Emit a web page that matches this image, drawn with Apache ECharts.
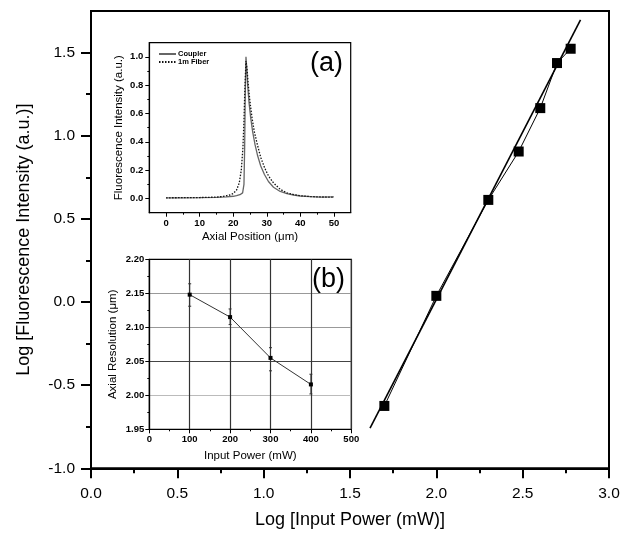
<!DOCTYPE html>
<html><head><meta charset="utf-8">
<script src="https://cdn.jsdelivr.net/npm/echarts@6/dist/echarts.min.js"></script>
<style>html,body{margin:0;padding:0;background:#fff}#c{width:624px;height:537px}</style>
</head><body><div id="c"></div>
<script>
// ---- main plot data ----
const logPower = [1.699, 2.0, 2.301, 2.477, 2.602, 2.699, 2.778];
const logIntensity = [-0.625, 0.037, 0.614, 0.905, 1.166, 1.437, 1.523];
const fitLogPower = [1.616, 2.835];
const fitLogIntensity = [-0.759, 1.697];
const mainYTicks = [-1, -0.5, 0, 0.5, 1, 1.5];
const mainYMinorTicks = [-0.75, -0.25, 0.25, 0.75, 1.25];

// ---- inset (a) data ----
const posCoupler = [0, 5, 10, 15, 18, 20, 21, 22, 22.8, 23.2, 23.4, 23.6, 23.8, 24.0, 24.3, 24.7, 25.2, 25.8, 26.5, 27.3, 28.2, 29.3, 30.5, 32, 34, 36, 38, 40, 43, 46, 50];
const coupler = [0.005, 0.005, 0.006, 0.008, 0.011, 0.016, 0.02, 0.027, 0.04, 0.10, 0.35, 0.75, 1.0, 0.93, 0.80, 0.68, 0.57, 0.47, 0.38, 0.30, 0.23, 0.17, 0.12, 0.08, 0.05, 0.035, 0.025, 0.018, 0.013, 0.01, 0.012];
const posFiber = [0, 5, 10, 15, 17, 19, 20, 21, 21.8, 22.4, 22.9, 23.2, 23.5, 23.8, 24.1, 24.5, 25, 25.6, 26.3, 27.2, 28.2, 29.3, 30.5, 32, 34, 36, 38, 40, 43, 46, 50];
const fiber = [0.005, 0.006, 0.007, 0.01, 0.015, 0.025, 0.035, 0.06, 0.11, 0.2, 0.36, 0.55, 0.80, 0.97, 0.92, 0.80, 0.68, 0.57, 0.47, 0.38, 0.29, 0.22, 0.16, 0.11, 0.065, 0.04, 0.028, 0.02, 0.014, 0.011, 0.01];
const aXTicks = [0, 10, 20, 30, 40, 50];
const aXMinorTicks = [5, 15, 25, 35, 45];
const aYTicks = [0, 0.2, 0.4, 0.6, 0.8, 1.0];
const aYMinorTicks = [0.1, 0.3, 0.5, 0.7, 0.9];

// ---- inset (b) data ----
const inputPower = [100, 200, 300, 400];
const axialRes = [2.148, 2.115, 2.055, 2.016];
const resLow = [2.131, 2.104, 2.036, 2.002];
const resHigh = [2.164, 2.127, 2.070, 2.031];

const FONT = 'Liberation Sans, Arial, sans-serif';
const zip = (a, b) => a.map((v, i) => [v, b[i]]);

const grids = [
  {left: 91, top: 11, width: 518, height: 457.3, show: true, borderColor: '#000', borderWidth: 2},
  {left: 91, top: 11, width: 518, height: 457.3},
  {left: 149.3, top: 42.7, width: 201.4, height: 170, show: true, borderColor: '#000', borderWidth: 1.2},
  {left: 149.3, top: 42.7, width: 201.4, height: 170},
  {left: 149.3, top: 259.3, width: 202, height: 170, show: true, borderColor: '#000', borderWidth: 1.2}
];

const smallLabel = {fontFamily: FONT, fontSize: 9.5, color: '#000', fontWeight: 'bold'};
const hidden = (gi, min, max) => ({gridIndex: gi, min, max, show: false});

const option = {
  backgroundColor: '#fff',
  animation: false,
  grid: grids,
  legend: {
    data: ['Coupler', '1m Fiber'],
    orient: 'vertical', left: 158, top: 50,
    itemWidth: 17, itemHeight: 8, itemGap: 0, padding: 0,
    itemStyle: {opacity: 0},
    textStyle: {fontFamily: FONT, fontSize: 7.5, fontWeight: 'bold', color: '#000', padding: [0, 0, 0, -3]}
  },
  xAxis: [
    {gridIndex: 0, type: 'value', min: 0, max: 3, interval: 0.5,
      axisLine: {onZero: false, lineStyle: {color: '#000', width: 2}},
      axisTick: {length: 10, lineStyle: {color: '#000', width: 2}},
      minorTick: {show: true, splitNumber: 2, length: 5, lineStyle: {color: '#000', width: 2}},
      axisLabel: {fontFamily: FONT, fontSize: 15.5, color: '#000', margin: 17, formatter: v => v.toFixed(1)},
      splitLine: {show: false},
      name: 'Log [Input Power (mW)]', nameLocation: 'middle', nameGap: 43,
      nameTextStyle: {fontFamily: FONT, fontSize: 18, color: '#000'}},
    hidden(1, 0, 3),
    {gridIndex: 2, type: 'value', min: -5, max: 55,
      axisLine: {onZero: false, lineStyle: {color: '#000', width: 1.2}},
      axisTick: {customValues: aXTicks, length: 4, lineStyle: {color: '#000'}},
      axisLabel: Object.assign({customValues: aXTicks, margin: 6}, smallLabel),
      splitLine: {show: false},
      name: 'Axial Position (\u03bcm)', nameLocation: 'middle', nameGap: 18,
      nameTextStyle: {fontFamily: FONT, fontSize: 11.5, color: '#000'}},
    {gridIndex: 3, type: 'value', min: -5, max: 55,
      axisLine: {show: false, onZero: false}, axisLabel: {show: false}, splitLine: {show: false},
      axisTick: {customValues: aXMinorTicks, length: 2, lineStyle: {color: '#000'}}},
    {gridIndex: 4, type: 'value', min: 0, max: 500, interval: 100,
      axisLine: {onZero: false, lineStyle: {color: '#000', width: 1.2}},
      axisTick: {length: 4, lineStyle: {color: '#000'}},
      minorTick: {show: true, splitNumber: 2, length: 2, lineStyle: {color: '#000'}},
      axisLabel: Object.assign({margin: 5}, smallLabel),
      splitLine: {show: true, lineStyle: {color: '#333', width: 1.2}},
      name: 'Input Power (mW)', nameLocation: 'middle', nameGap: 21,
      nameTextStyle: {fontFamily: FONT, fontSize: 11.5, color: '#000'}}
  ],
  yAxis: [
    {gridIndex: 0, type: 'value', min: -1, max: 1.75,
      axisLine: {onZero: false, lineStyle: {color: '#000', width: 2}},
      axisTick: {customValues: mainYTicks, length: 10, lineStyle: {color: '#000', width: 2}},
      axisLabel: {customValues: mainYTicks, fontFamily: FONT, fontSize: 15.5, color: '#000', margin: 16, formatter: v => v.toFixed(1)},
      splitLine: {show: false},
      name: 'Log [Fluorescence Intensity (a.u.)]', nameLocation: 'middle', nameGap: 58,
      nameTextStyle: {fontFamily: FONT, fontSize: 18, color: '#000'}},
    {gridIndex: 1, type: 'value', min: -1, max: 1.75,
      axisLine: {show: false, onZero: false}, axisLabel: {show: false}, splitLine: {show: false},
      axisTick: {customValues: mainYMinorTicks, length: 5, lineStyle: {color: '#000', width: 2}}},
    {gridIndex: 2, type: 'value', min: -0.1, max: 1.1,
      axisLine: {onZero: false, lineStyle: {color: '#000', width: 1.2}},
      axisTick: {customValues: aYTicks, length: 4, lineStyle: {color: '#000'}},
      axisLabel: Object.assign({customValues: aYTicks, margin: 6, formatter: v => v.toFixed(1)}, smallLabel),
      splitLine: {show: false},
      name: 'Fluorescence Intensity (a.u.)', nameLocation: 'middle', nameGap: 24,
      nameTextStyle: {fontFamily: FONT, fontSize: 11.5, color: '#000'}},
    {gridIndex: 3, type: 'value', min: -0.1, max: 1.1,
      axisLine: {show: false, onZero: false}, axisLabel: {show: false}, splitLine: {show: false},
      axisTick: {customValues: aYMinorTicks, length: 2, lineStyle: {color: '#000'}}},
    {gridIndex: 4, type: 'value', min: 1.95, max: 2.2, interval: 0.05,
      axisLine: {onZero: false, lineStyle: {color: '#000', width: 1.2}},
      axisTick: {length: 4, lineStyle: {color: '#000'}},
      minorTick: {show: true, splitNumber: 2, length: 2, lineStyle: {color: '#000'}},
      axisLabel: Object.assign({margin: 5, formatter: v => v.toFixed(2)}, smallLabel),
      splitLine: {show: true, lineStyle: {color: ['#000', '#bbb', '#444', '#999', '#999', '#000'], width: 1}},
      name: 'Axial Resolution (\u03bcm)', nameLocation: 'middle', nameGap: 30,
      nameTextStyle: {fontFamily: FONT, fontSize: 11.5, color: '#000'}}
  ],
  series: [
    {type: 'line', xAxisIndex: 0, yAxisIndex: 0, data: zip(fitLogPower, fitLogIntensity),
      symbol: 'none', lineStyle: {color: '#000', width: 1.6}, z: 2},
    {type: 'line', xAxisIndex: 0, yAxisIndex: 0, data: zip(logPower, logIntensity),
      symbol: 'none', lineStyle: {color: '#000', width: 1}, z: 2},
    {type: 'scatter', xAxisIndex: 0, yAxisIndex: 0, data: zip(logPower, logIntensity),
      symbol: 'rect', symbolSize: 10, itemStyle: {color: '#000', opacity: 1}, z: 3},
    {name: 'Coupler', type: 'line', xAxisIndex: 2, yAxisIndex: 2, data: zip(posCoupler, coupler),
      symbol: 'none', lineStyle: {color: '#666', width: 1.3}, itemStyle: {color: '#666'}},
    {name: '1m Fiber', type: 'line', xAxisIndex: 2, yAxisIndex: 2, data: zip(posFiber, fiber),
      symbol: 'none', lineStyle: {color: '#111', width: 1.3, type: [1.5, 1.5]}, itemStyle: {color: '#111'}},
    {type: 'custom', xAxisIndex: 4, yAxisIndex: 4,
      data: inputPower.map((p, i) => [p, resLow[i], resHigh[i]]),
      renderItem: (params, api) => {
        const lo = api.coord([api.value(0), api.value(1)]);
        const hi = api.coord([api.value(0), api.value(2)]);
        const st = {stroke: '#333', lineWidth: 1};
        return {type: 'group', children: [
          {type: 'line', shape: {x1: lo[0], y1: lo[1], x2: hi[0], y2: hi[1]}, style: st},
          {type: 'line', shape: {x1: lo[0] - 1.5, y1: lo[1], x2: lo[0] + 1.5, y2: lo[1]}, style: st},
          {type: 'line', shape: {x1: hi[0] - 1.5, y1: hi[1], x2: hi[0] + 1.5, y2: hi[1]}, style: st}
        ]};
      }, z: 3},
    {type: 'line', xAxisIndex: 4, yAxisIndex: 4, data: zip(inputPower, axialRes),
      symbol: 'rect', symbolSize: 4, lineStyle: {color: '#333', width: 1}, itemStyle: {color: '#000'}, z: 4}
  ],
  graphic: [
    {type: 'text', left: 310, top: 50, style: {text: '(a)', fontFamily: FONT, fontSize: 27, fill: '#000'}},
    {type: 'text', left: 312, top: 266, style: {text: '(b)', fontFamily: FONT, fontSize: 27, fill: '#000'}}
  ]
};

const chart = echarts.init(document.getElementById('c'), null, {renderer: 'canvas'});
chart.setOption(option);
</script>
</body></html>
